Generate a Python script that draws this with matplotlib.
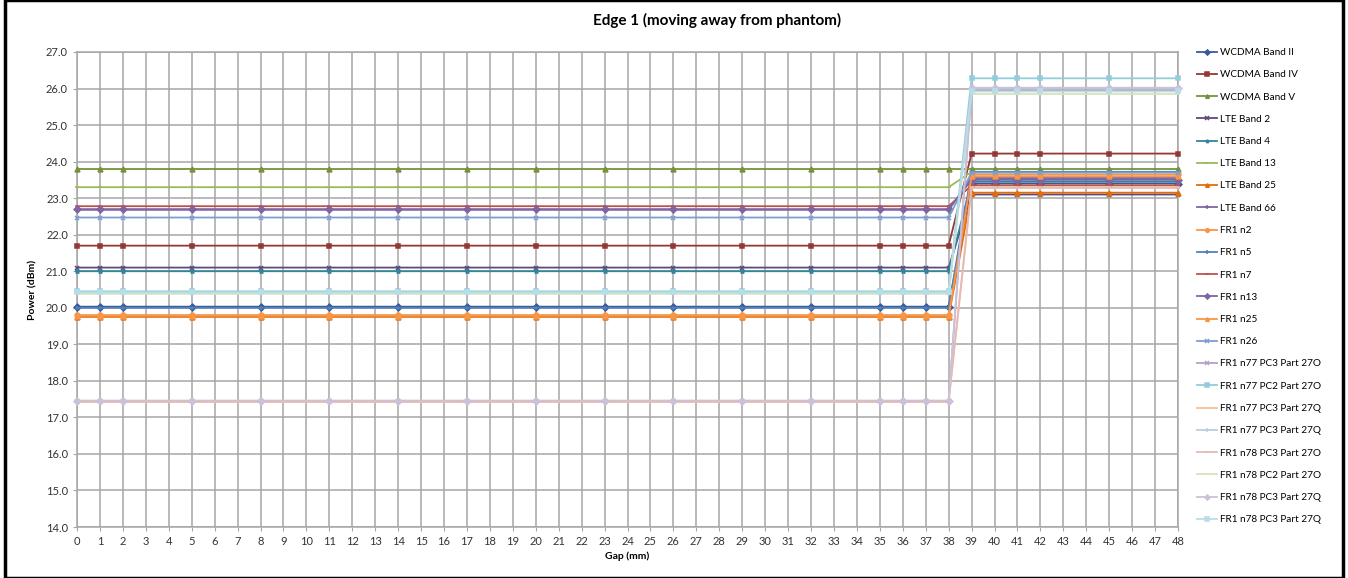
import matplotlib
matplotlib.use("Agg")
import matplotlib.pyplot as plt
from matplotlib.patches import Rectangle

plt.rcParams['font.family'] = ['Lato', 'DejaVu Sans']

# gap positions (mm) where power was measured
gap = [0, 1, 2, 5, 8, 11, 14, 17, 20, 23, 26, 29, 32, 35, 36, 37, 38,
       39, 40, 41, 42, 45, 48]
n_near = 17  # points at 0..38 mm, the rest at 39..48 mm

series = ["WCDMA Band II", "WCDMA Band IV", "WCDMA Band V", "LTE Band 2",
          "LTE Band 4", "LTE Band 13", "LTE Band 25", "LTE Band 66",
          "FR1 n2", "FR1 n5", "FR1 n7", "FR1 n13", "FR1 n25", "FR1 n26",
          "FR1 n77 PC3 Part 27O", "FR1 n77 PC2 Part 27O",
          "FR1 n77 PC3 Part 27Q", "FR1 n77 PC3 Part 27Q",
          "FR1 n78 PC3 Part 27O", "FR1 n78 PC2 Part 27O",
          "FR1 n78 PC3 Part 27Q", "FR1 n78 PC3 Part 27Q"]

# power (dBm): 0-38 mm level and 39-48 mm level
power_near = [20.03, 21.70, 23.80, 21.10, 21.00, 23.30, 19.75, 22.68,
              19.80, 20.00, 22.78, 22.70, 19.78, 22.47,
              17.45, 20.45, 17.42, 20.40, 17.44, 20.38, 17.46, 20.42]
power_far = [23.40, 24.22, 23.80, 23.10, 23.45, 23.72, 23.15, 23.55,
             23.65, 23.72, 23.35, 23.50, 23.60, 23.70,
             25.94, 26.28, 23.30, 26.02, 23.28, 25.85, 26.02, 25.92]

colors = ["#3B5998", "#953735", "#76923C", "#5F497A", "#31859C", "#9BBB59",
          "#E46C0A", "#8064A2", "#F79646", "#4F81BD", "#C0504D", "#8064A2",
          "#F79646", "#7A9FD0", "#B3A2C7", "#93CDDD", "#FAC090", "#B9CDE5",
          "#E6B9B8", "#D7E4BD", "#CCC1DA", "#B7DEE8"]
markers = ["D", "s", "^", "x", "*", "_", "^", "+", "o", "+", "_", "D",
           "^", "x", "x", "s", "_", "+", "_", "_", "D", "s"]

fig = plt.figure(figsize=(13.48, 5.78), dpi=100)
ax = fig.add_axes([77 / 1348, 1 - 527 / 578, (1178 - 77) / 1348, (527 - 52) / 578])

for i, name in enumerate(series):
    y = [power_near[i]] * n_near + [power_far[i]] * (len(gap) - n_near)
    ax.plot(gap, y, color=colors[i], marker=markers[i], markersize=3.5,
            markeredgewidth=1.1, linewidth=1.3, label=name, clip_on=False,
            zorder=3)

ax.set_xlim(0, 48)
ax.set_ylim(14, 27)
ax.set_xticks(range(0, 49))
ax.set_yticks([14 + k for k in range(14)])
ax.set_yticklabels([f"{14 + k:.1f}" for k in range(14)])
ax.grid(True, color="#A6A6A6", linewidth=1.1)
ax.set_axisbelow(True)
ax.tick_params(labelsize=8, length=3, color="#A6A6A6", colors="#333333")
for s in ax.spines.values():
    s.set_color("#A6A6A6")
    s.set_linewidth(1.1)

ax.set_xlabel("Gap (mm)", fontsize=7.5, fontweight="bold", labelpad=3)
ax.set_ylabel("Power (dBm)", fontsize=7.5, fontweight="bold", labelpad=6)
fig.text(717 / 1348, 1 - 20 / 578, "Edge 1 (moving away from phantom)",
         ha="center", va="center", fontsize=11, fontweight="bold")

ax.legend(loc="upper left", bbox_to_anchor=(1188 / 1348, 1 - 39 / 578),
          bbox_transform=fig.transFigure, frameon=False, fontsize=7.2,
          labelspacing=1.325, handlelength=2.0, handletextpad=0.3,
          markerscale=0.75)

fig.patches.append(Rectangle((5 / 1348, 0), (1343 - 5) / 1348, 1,
                             transform=fig.transFigure, fill=False,
                             edgecolor="black", linewidth=2.5))

fig.savefig("out.png", dpi=100)
